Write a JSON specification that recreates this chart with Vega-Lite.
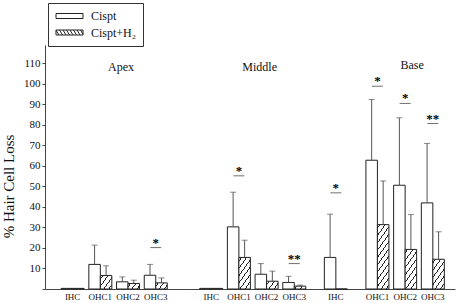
{
  "$schema": "https://vega.github.io/schema/vega-lite/v6.json",
  "autosize": {"type": "none"},
  "padding": {"left": 45, "top": 45, "right": 4, "bottom": 14},
  "width": 410,
  "height": 244,
  "background": "white",
  "config": {"view": {"stroke": null}, "font": "Liberation Serif", "axis": {"domainColor": "#444", "tickColor": "#444", "labelColor": "#111", "titleColor": "#111", "grid": false}},
  "datasets": {
    "loss": [
      {"site": "Apex IHC", "group": "Cispt", "mean": 0.3},
      {"site": "Apex IHC", "group": "Cispt+H₂", "mean": 0.3},
      {"site": "Apex OHC1", "group": "Cispt", "mean": 12.0, "upper": 21.4},
      {"site": "Apex OHC1", "group": "Cispt+H₂", "mean": 6.6, "upper": 11.3},
      {"site": "Apex OHC2", "group": "Cispt", "mean": 3.5, "upper": 5.9},
      {"site": "Apex OHC2", "group": "Cispt+H₂", "mean": 2.7, "upper": 4.3},
      {"site": "Apex OHC3", "group": "Cispt", "mean": 6.7, "upper": 12.0},
      {"site": "Apex OHC3", "group": "Cispt+H₂", "mean": 3.0, "upper": 5.4},
      {"site": "Middle IHC", "group": "Cispt", "mean": 0.3},
      {"site": "Middle IHC", "group": "Cispt+H₂", "mean": 0.3},
      {"site": "Middle OHC1", "group": "Cispt", "mean": 30.3, "upper": 47.2},
      {"site": "Middle OHC1", "group": "Cispt+H₂", "mean": 15.4, "upper": 23.8},
      {"site": "Middle OHC2", "group": "Cispt", "mean": 7.2, "upper": 12.4},
      {"site": "Middle OHC2", "group": "Cispt+H₂", "mean": 3.8, "upper": 8.7},
      {"site": "Middle OHC3", "group": "Cispt", "mean": 3.2, "upper": 6.2},
      {"site": "Middle OHC3", "group": "Cispt+H₂", "mean": 1.4, "upper": 1.9},
      {"site": "Base IHC", "group": "Cispt", "mean": 15.4, "upper": 36.5},
      {"site": "Base IHC", "group": "Cispt+H₂", "mean": 0},
      {"site": "Base OHC1", "group": "Cispt", "mean": 62.8, "upper": 92.4},
      {"site": "Base OHC1", "group": "Cispt+H₂", "mean": 31.4, "upper": 52.7},
      {"site": "Base OHC2", "group": "Cispt", "mean": 50.6, "upper": 83.5},
      {"site": "Base OHC2", "group": "Cispt+H₂", "mean": 19.3, "upper": 36.3},
      {"site": "Base OHC3", "group": "Cispt", "mean": 42.0, "upper": 71.0},
      {"site": "Base OHC3", "group": "Cispt+H₂", "mean": 14.5, "upper": 27.9}
    ],
    "sig": [
      {"site": "Apex OHC3", "stars": "*", "level": 20.2},
      {"site": "Middle OHC1", "stars": "*", "level": 55.2},
      {"site": "Middle OHC3", "stars": "**", "level": 12.4},
      {"site": "Base IHC", "stars": "*", "level": 46.9},
      {"site": "Base OHC1", "stars": "*", "level": 98.9},
      {"site": "Base OHC2", "stars": "*", "level": 90.5},
      {"site": "Base OHC3", "stars": "**", "level": 80.7}
    ],
    "regions": [
      {"region": "Apex"},
      {"region": "Middle"},
      {"region": "Base"}
    ]
  },
  "layer": [
    {
      "data": {"name": "loss"},
      "transform": [{"filter": "datum.group == 'Cispt'"}],
      "mark": {"type": "bar", "width": 11.5, "xOffset": -5.75, "fill": "white", "stroke": "#222", "strokeWidth": 1},
      "encoding": {
        "x": {"field": "site", "type": "nominal", "title": null,
          "scale": {"type": "band", "domain": ["s0", "Apex IHC", "s1", "Apex OHC1", "Apex", "Apex OHC2", "s2", "Apex OHC3", "s3", "s4", "s5", "Middle IHC", "s6", "Middle OHC1", "Middle", "Middle OHC2", "s7", "Middle OHC3", "s8", "s9", "Base IHC", "s10", "s11", "Base OHC1", "s12", "Base OHC2", "Base", "Base OHC3"], "paddingInner": 0, "paddingOuter": 0.797, "align": 0.31},
          "axis": {"ticks": false, "labelAngle": 0, "labelFontSize": 9, "labelPadding": 3, "labelOverlap": false, "labelExpr": "indexof(datum.value, ' ') > 0 ? split(datum.value, ' ')[1] : ''"}},
        "y": {"field": "mean", "type": "quantitative",
          "scale": {"domain": [0, 119], "nice": false, "zero": true},
          "axis": {"tickCount": 12, "labelOverlap": false, "labelExpr": "datum.value == 0 ? '' : datum.label", "title": "% Hair Cell Loss", "tickSize": 3, "labelPadding": 2, "labelFontSize": 11, "titleFontSize": 15, "titleFontWeight": "normal", "titleX": -37, "titleY": 141, "titleAngle": 270, "titleAlign": "center", "titleBaseline": "middle"}}
      }
    },
    {
      "data": {"name": "loss"},
      "transform": [{"filter": "datum.group != 'Cispt'"}],
      "mark": {"type": "bar", "width": 11.5, "xOffset": 5.75, "stroke": "#222", "strokeWidth": 1},
      "encoding": {
        "x": {"field": "site", "type": "nominal"},
        "y": {"field": "mean", "type": "quantitative"},
        "fill": {"value": {"expr": "{gradient:'linear',x1:0,y1:0,x2:1610/(259.21+pow(scale('y',0)-scale('y',datum.mean),2)),y2:100*(scale('y',0)-scale('y',datum.mean))/(259.21+pow(scale('y',0)-scale('y',datum.mean),2)),stops:[{offset:0,color:'#fff'},{offset:0.0295,color:'#fff'},{offset:0.0295,color:'#222'},{offset:0.0435,color:'#222'},{offset:0.0435,color:'#fff'},{offset:0.1025,color:'#fff'},{offset:0.1025,color:'#222'},{offset:0.1165,color:'#222'},{offset:0.1165,color:'#fff'},{offset:0.1755,color:'#fff'},{offset:0.1755,color:'#222'},{offset:0.1895,color:'#222'},{offset:0.1895,color:'#fff'},{offset:0.2485,color:'#fff'},{offset:0.2485,color:'#222'},{offset:0.2625,color:'#222'},{offset:0.2625,color:'#fff'},{offset:0.3215,color:'#fff'},{offset:0.3215,color:'#222'},{offset:0.3355,color:'#222'},{offset:0.3355,color:'#fff'},{offset:0.3945,color:'#fff'},{offset:0.3945,color:'#222'},{offset:0.4085,color:'#222'},{offset:0.4085,color:'#fff'},{offset:0.4675,color:'#fff'},{offset:0.4675,color:'#222'},{offset:0.4815,color:'#222'},{offset:0.4815,color:'#fff'},{offset:0.5405,color:'#fff'},{offset:0.5405,color:'#222'},{offset:0.5545,color:'#222'},{offset:0.5545,color:'#fff'},{offset:0.6135,color:'#fff'},{offset:0.6135,color:'#222'},{offset:0.6275,color:'#222'},{offset:0.6275,color:'#fff'},{offset:0.6865,color:'#fff'},{offset:0.6865,color:'#222'},{offset:0.7005,color:'#222'},{offset:0.7005,color:'#fff'},{offset:0.7595,color:'#fff'},{offset:0.7595,color:'#222'},{offset:0.7735,color:'#222'},{offset:0.7735,color:'#fff'},{offset:0.8325,color:'#fff'},{offset:0.8325,color:'#222'},{offset:0.8465,color:'#222'},{offset:0.8465,color:'#fff'},{offset:1,color:'#fff'}]}"}}
      }
    },
    {
      "data": {"name": "loss"},
      "transform": [{"filter": "datum.group == 'Cispt'"}],
      "mark": {"type": "rule", "xOffset": -5.75, "stroke": "#555", "strokeWidth": 1},
      "encoding": {
        "x": {"field": "site", "type": "nominal"},
        "y": {"field": "mean", "type": "quantitative"},
        "y2": {"field": "upper"}
      }
    },
    {
      "data": {"name": "loss"},
      "transform": [{"filter": "datum.group == 'Cispt'"}],
      "mark": {"type": "tick", "orient": "horizontal", "size": 6, "thickness": 1, "xOffset": -5.75, "color": "#555"},
      "encoding": {
        "x": {"field": "site", "type": "nominal"},
        "y": {"field": "upper", "type": "quantitative"}
      }
    },
    {
      "data": {"name": "loss"},
      "transform": [{"filter": "datum.group != 'Cispt'"}],
      "mark": {"type": "rule", "xOffset": 5.75, "stroke": "#555", "strokeWidth": 1},
      "encoding": {
        "x": {"field": "site", "type": "nominal"},
        "y": {"field": "mean", "type": "quantitative"},
        "y2": {"field": "upper"}
      }
    },
    {
      "data": {"name": "loss"},
      "transform": [{"filter": "datum.group != 'Cispt'"}],
      "mark": {"type": "tick", "orient": "horizontal", "size": 6, "thickness": 1, "xOffset": 5.75, "color": "#555"},
      "encoding": {
        "x": {"field": "site", "type": "nominal"},
        "y": {"field": "upper", "type": "quantitative"}
      }
    },
    {
      "data": {"name": "sig"},
      "mark": {"type": "tick", "orient": "horizontal", "size": 11, "thickness": 1, "color": "#333"},
      "encoding": {
        "x": {"field": "site", "type": "nominal"},
        "y": {"field": "level", "type": "quantitative"}
      }
    },
    {
      "data": {"name": "sig"},
      "mark": {"type": "text", "fontSize": 13, "fontWeight": "bold", "baseline": "alphabetic", "dy": -1, "fill": "#000"},
      "encoding": {
        "x": {"field": "site", "type": "nominal"},
        "y": {"field": "level", "type": "quantitative"},
        "text": {"field": "stars"}
      }
    },
    {
      "data": {"name": "regions"},
      "transform": [{"filter": "datum.region != 'Base'"}],
      "mark": {"type": "text", "fontSize": 12, "baseline": "middle", "fill": "#111"},
      "encoding": {
        "x": {"field": "region", "type": "nominal", "bandPosition": 1},
        "y": {"datum": 108.3},
        "text": {"field": "region"}
      }
    },
    {
      "data": {"name": "regions"},
      "transform": [{"filter": "datum.region == 'Base'"}],
      "mark": {"type": "text", "fontSize": 12, "baseline": "middle", "fill": "#111"},
      "encoding": {
        "x": {"field": "region", "type": "nominal", "bandPosition": 0},
        "y": {"datum": 109.2},
        "text": {"field": "region"}
      }
    },
    {
      "data": {"name": "loss"},
      "transform": [{"filter": "datum.group == 'none'"}],
      "mark": {"type": "point", "filled": false, "strokeWidth": 1},
      "encoding": {
        "shape": {"field": "group", "type": "nominal",
          "scale": {"domain": ["Cispt", "Cispt+H₂"], "range": ["M-1,-0.5H4.4V0.5H-1Z", "M-1,-0.5H4.4V0.5H-1Z M-1,-0.5L-0.4,0.5 M-0.3,-0.5L0.3,0.5 M0.4,-0.5L1,0.5 M1.1,-0.5L1.7,0.5 M1.8,-0.5L2.4,0.5 M2.5,-0.5L3.1,0.5 M3.2,-0.5L3.8,0.5 M3.9,-0.5L4.4,0.333"]},
          "legend": {"orient": "none", "legendX": 3, "legendY": -42, "title": null, "strokeColor": "#333", "padding": 7, "labelFontSize": 12, "labelColor": "#111", "symbolSize": 100, "symbolStrokeWidth": 1, "symbolStrokeColor": "#222", "symbolFillColor": "white", "symbolOpacity": 1, "labelOffset": 24, "rowPadding": 4.5}},
        "color": {"value": "#222"}
      }
    }
  ]
}
